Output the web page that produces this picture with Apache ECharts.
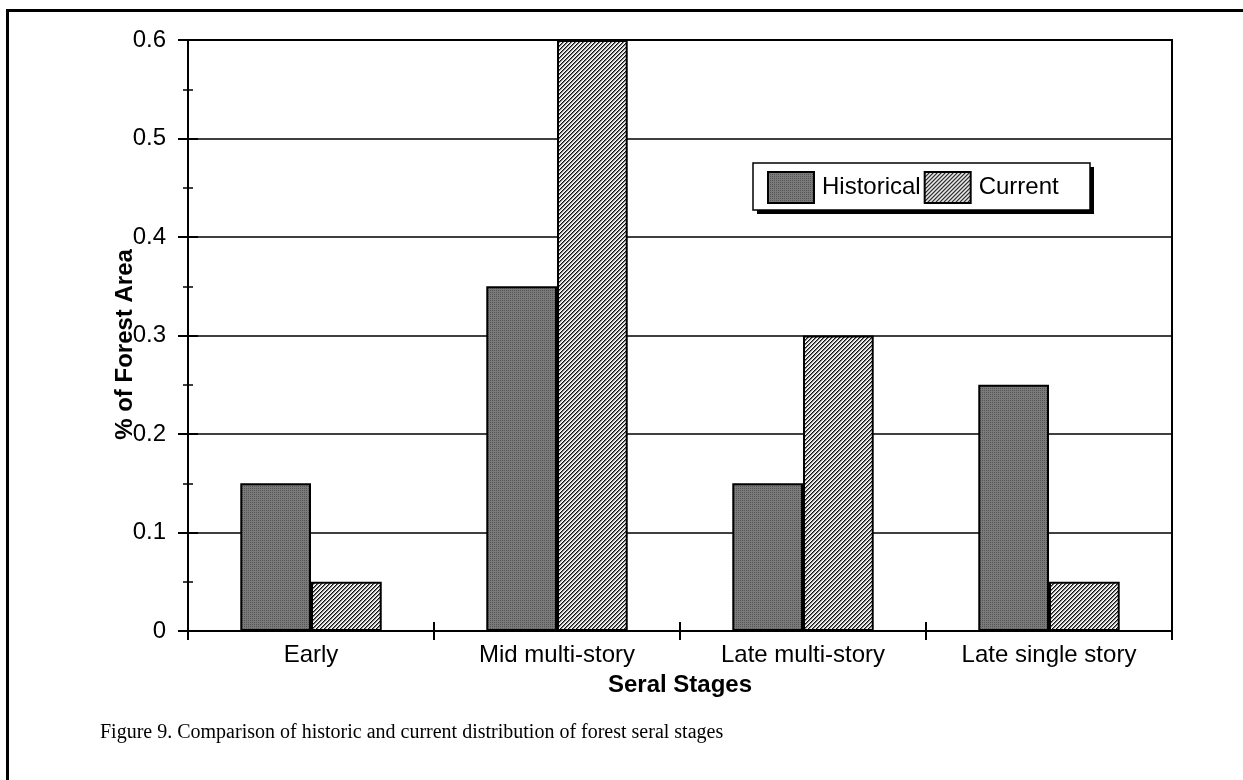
<!DOCTYPE html>
<html>
<head>
<meta charset="utf-8">
<title>Forest seral stages</title>
<script src="https://cdn.jsdelivr.net/npm/echarts@6/dist/echarts.min.js"></script>
<style>
  html, body { margin: 0; padding: 0; background: #fff; }
  #frame {
    position: absolute; left: 6px; top: 9px; width: 1240px; height: 775px;
    border-top: 3px solid #000; border-left: 3px solid #000;
  }
  #chart { position: absolute; left: 0; top: 0; width: 1243px; height: 780px; }
</style>
</head>
<body>
<div id="frame"></div>
<div id="chart"></div>
<script>
// Seral stage categories and share of forest area per period
const categories = ['Early', 'Mid multi-story', 'Late multi-story', 'Late single story'];
const historical = [0.15, 0.35, 0.15, 0.25];
const current = [0.05, 0.60, 0.30, 0.05];
const yTickLabels = ['0', '0.1', '0.2', '0.3', '0.4', '0.5', '0.6'];

// Fine stipple fill for the historical bars
function stipple() {
  const c = document.createElement('canvas');
  c.width = 2; c.height = 2;
  const g = c.getContext('2d');
  g.fillStyle = '#7a7a7a'; g.fillRect(0, 0, 2, 2);
  g.fillStyle = '#555555'; g.fillRect(0, 0, 1, 1);
  return c;
}
// Fine diagonal hatch for the current bars
function hatch() {
  const c = document.createElement('canvas');
  c.width = 4; c.height = 4;
  const g = c.getContext('2d');
  g.fillStyle = '#ffffff'; g.fillRect(0, 0, 4, 4);
  for (let x = 0; x < 4; x++) {
    for (let y = 0; y < 4; y++) {
      const k = (x + y) % 4;
      if (k === 0) { g.fillStyle = '#111111'; g.fillRect(x, y, 1, 1); }
      else if (k === 1) { g.fillStyle = '#777777'; g.fillRect(x, y, 1, 1); }
      else if (k === 2) { g.fillStyle = '#dddddd'; g.fillRect(x, y, 1, 1); }
    }
  }
  return c;
}

const font = 'Liberation Sans, Arial, sans-serif';
const chart = echarts.init(document.getElementById('chart'), null, { renderer: 'canvas' });

const yCommon = {
  type: 'value', min: 0, max: 0.6, interval: 0.1, position: 'left'
};

chart.setOption({
  animation: false,
  backgroundColor: 'transparent',
  title: {
    text: 'Figure 9. Comparison of historic and current distribution of forest seral stages',
    left: 95, top: 718,
    textStyle: { fontFamily: 'Liberation Serif, Times New Roman, serif', fontSize: 20, fontWeight: 'normal', color: '#000' }
  },
  // Legend frame with its drop shadow
  graphic: [{
    type: 'rect', z: 3, silent: true,
    shape: { x: 757, y: 167, width: 337, height: 47 },
    style: { fill: '#000' }
  }, {
    type: 'rect', z: 3, silent: true,
    shape: { x: 753, y: 163, width: 337, height: 47 },
    style: { fill: '#fff', stroke: '#000', lineWidth: 1.5 }
  }],
  grid: {
    left: 188, top: 40, right: 71, bottom: 149,
    show: true, borderColor: '#000', borderWidth: 2, backgroundColor: 'transparent'
  },
  legend: {
    left: 753, top: 163, z: 5,
    padding: [8, 23, 8, 14],
    icon: 'rect',
    itemWidth: 46, itemHeight: 31, itemGap: 3,
    itemStyle: { borderColor: '#000', borderWidth: 2 },
    textStyle: { fontFamily: font, fontSize: 24, color: '#000', padding: [0, 0, 0, 3] },
    data: ['Historical', 'Current']
  },
  xAxis: [{
    type: 'category', data: categories, boundaryGap: true,
    axisLine: { lineStyle: { color: '#000', width: 2 } },
    axisTick: { show: true, inside: false, length: 9, alignWithLabel: false, lineStyle: { color: '#000', width: 2 } },
    axisLabel: { fontFamily: font, fontSize: 24, color: '#000', margin: 12, interval: 0 },
    name: 'Seral Stages', nameLocation: 'middle', nameGap: 42, nameMoveOverlap: false,
    nameTextStyle: { fontFamily: font, fontSize: 24, fontWeight: 'bold', color: '#000' }
  }, {
    type: 'category', data: categories, boundaryGap: true, position: 'bottom',
    axisLine: { show: false },
    axisTick: { show: true, inside: true, length: 9, lineStyle: { color: '#000', width: 2 } },
    axisLabel: { show: false }
  }],
  yAxis: [Object.assign({}, yCommon, {
    axisLine: { show: true, lineStyle: { color: '#000', width: 2 } },
    axisTick: { show: true, inside: false, length: 10, lineStyle: { color: '#000', width: 2 } },
    minorTick: { show: true, splitNumber: 2, length: 5, lineStyle: { color: '#000', width: 1.5 } },
    splitLine: { show: true, lineStyle: { color: '#000', width: 1.5 } },
    axisLabel: {
      fontFamily: font, fontSize: 24, color: '#000', margin: 22,
      formatter: (v, i) => yTickLabels[i]
    },
    name: '% of Forest Area', nameLocation: 'middle', nameGap: 51, nameRotate: 90, nameMoveOverlap: false,
    nameTextStyle: { fontFamily: font, fontSize: 24, fontWeight: 'bold', color: '#000', padding: [0, 18, 0, 0] }
  }), Object.assign({}, yCommon, {
    axisLine: { show: false },
    axisTick: { show: true, inside: true, length: 10, lineStyle: { color: '#000', width: 2 } },
    minorTick: { show: true, splitNumber: 2, length: 5, lineStyle: { color: '#000', width: 1.5 } },
    splitLine: { show: false },
    axisLabel: { show: false }
  })],
  series: [{
    name: 'Historical', type: 'bar', data: historical,
    xAxisIndex: 0, yAxisIndex: 0,
    barGap: '0%', barCategoryGap: '42.5%',
    itemStyle: { color: { image: stipple(), repeat: 'repeat' }, borderColor: '#000', borderWidth: 2 }
  }, {
    name: 'Current', type: 'bar', data: current,
    xAxisIndex: 0, yAxisIndex: 0,
    barGap: '0%', barCategoryGap: '42.5%',
    itemStyle: { color: { image: hatch(), repeat: 'repeat' }, borderColor: '#000', borderWidth: 2 }
  }]
});
</script>
</body>
</html>
